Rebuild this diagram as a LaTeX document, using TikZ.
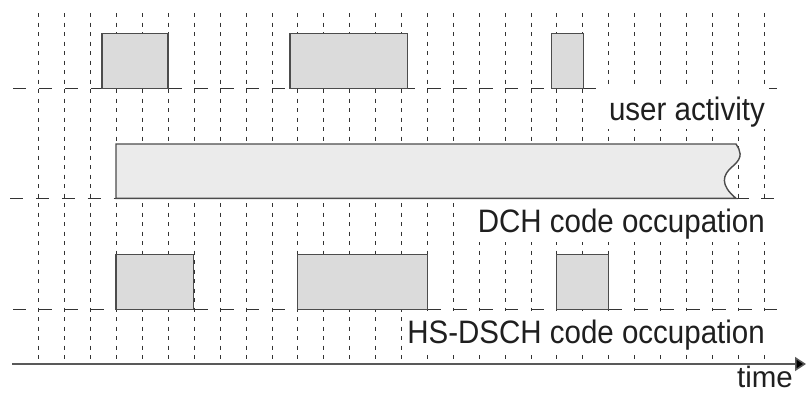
\documentclass[tikz,border=0pt]{standalone}
\usepackage{fontspec}
\setmainfont{Liberation Sans}
\usetikzlibrary{arrows.meta}
\newcommand{\tallish}[1]{\scalebox{1}[1.1]{#1}}
\begin{document}
\begin{tikzpicture}[x=1pt,y=-1pt,
  vdash/.style={draw=black!80, line width=0.9pt, dash pattern=on 4pt off 5.5pt},
  hdash/.style={draw=black!80, line width=1.3pt, dash pattern=on 13.3pt off 12.6pt},
  actbox/.style={draw=black!70, line width=1.4pt, fill=black!14},
  dchbox/.style={draw=black!70, line width=1.4pt, fill=black!8},
  lbl/.style={font=\fontsize{29.5}{34}\selectfont, text=black!88, fill=white, inner xsep=4pt, inner ysep=0pt, text height=32pt, text depth=9pt, anchor=base east},
  axis/.style={draw=black!65, line width=1.5pt, -{Triangle[length=11pt,width=14pt,fill=black]}}]
\useasboundingbox (0,0) rectangle (806,392);
% vertical grid
\foreach \k in {1,...,29} {
  \coordinate (vt\k) at ({13+25.9*\k},13);
  \coordinate (vb\k) at ({13+25.9*\k},364);
  \draw[vdash] (vt\k) -- (vb\k);
}
% horizontal dashed base lines
\coordinate (h1a) at (13,88.3);  \coordinate (h1b) at (778,88.3);
\coordinate (h2a) at (10,198.3); \coordinate (h2b) at (775,198.3);
\coordinate (h3a) at (13,309.3); \coordinate (h3b) at (778,309.3);
\draw[hdash] (h1a) -- (h1b);
\draw[hdash] (h2a) -- (h2b);
\draw[hdash] (h3a) -- (h3b);
% labels
\node[lbl] (ua)  at (769,120)   {\tallish{user activity}};
\node[lbl] (dch) at (769,232.5) {\tallish{DCH code occupation}};
\node[lbl] (hs)  at (769,343)   {\tallish{HS-DSCH code occupation}};
% user activity boxes
\filldraw[actbox] (102,33.5) rectangle (168,88.3);
\filldraw[actbox] (290,33.5) rectangle (407.7,88.3);
\filldraw[actbox] (551.3,33.5) rectangle (583.7,88.3);
% DCH occupation
\filldraw[dchbox] (736,144) -- (116,144) -- (116,198.3) -- (736,198.3)
  .. controls (720,185) and (722,175) .. (733,166)
  .. controls (744,157) and (740,150) .. (736,144) -- cycle;
% HS-DSCH occupation boxes
\filldraw[actbox] (116,254.3) rectangle (193.7,309.3);
\filldraw[actbox] (297.7,254.3) rectangle (427.3,309.3);
\filldraw[actbox] (556.7,254.3) rectangle (608.3,309.3);
% time axis
\coordinate (ax0) at (12,364);
\coordinate (ax1) at (806,364);
\draw[axis] (ax0) -- (ax1);
\node[font=\fontsize{29.5}{34}\selectfont, text=black!88, anchor=base east, inner sep=0pt] (time) at (793,387) {time};
\end{tikzpicture}
\end{document}
